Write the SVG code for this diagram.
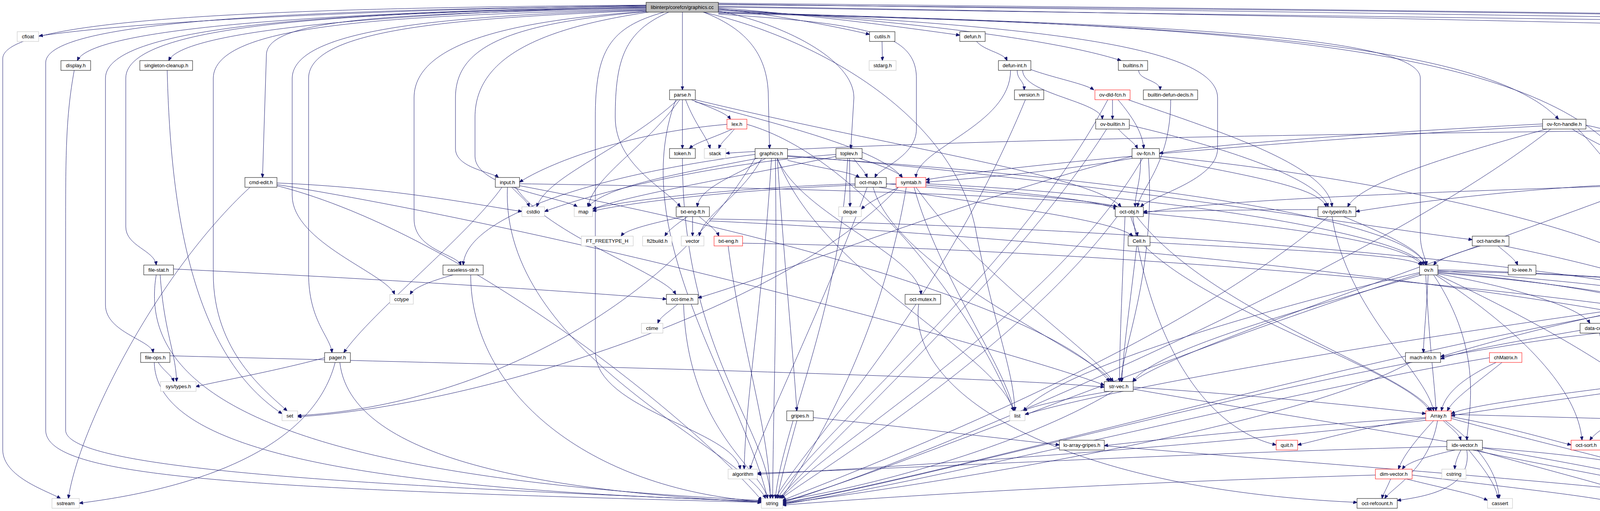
<svg xmlns="http://www.w3.org/2000/svg" width="6911" height="1307" viewBox="0 0 6911 1307">
<defs>
<marker id="a" markerWidth="10" markerHeight="8" refX="9.5" refY="4" orient="auto" markerUnits="userSpaceOnUse"><path d="M0,0 L10,4 L0,8 z" fill="#191970" stroke="#191970" stroke-width="1"/></marker>
<style>
.edges path{fill:none;stroke:#191970;stroke-width:1;marker-end:url(#a)}
g.n rect{fill:#fff;stroke:#000;stroke-width:1}
g.e rect{fill:#fff;stroke:#bfbfbf;stroke-width:1}
g.r rect{fill:#fff;stroke:#ff0000;stroke-width:1}
g.root rect{fill:#bfbfbf;stroke:#000;stroke-width:1}
text{font-family:'Liberation Sans',Arial,Helvetica,sans-serif;font-size:13px;text-anchor:middle;fill:#000}
</style>
</defs>
<rect width="6911" height="1307" fill="#fff"/>
<g id="edges" class="edges">
<path d="M1654,14 C1100,22 400,48 100,92"/>
<path d="M1654,16 C1000,28 240,60 198,155"/>
<path d="M1654,18 C1100,30 470,70 432,155"/>
<path d="M1654,22 C1000,34 684,48 682,140 L672,454"/>
<path d="M1654,20 C900,30 322,60 322,200 L322,580 C322,630 396,640 400,678"/>
<path d="M1654,19 C900,30 270,60 270,200 L270,780 C270,850 388,870 392,902"/>
<path d="M1654,13 C800,20 8,40 7,150 L7,1150 C7,1220 120,1255 155,1275"/>
<path d="M1654,15 C800,25 118,50 117,160 L117,1100 C117,1220 600,1250 1949,1285"/>
<path d="M1654,24 C1000,40 548,60 546,200 L546,700 C546,900 680,1000 735,1051"/>
<path d="M1654,26 C1100,40 750,80 748,200 L748,500 C748,620 990,700 1010,753"/>
<path d="M1654,27 C1200,45 790,70 790,200 L790,700 C790,820 845,860 850,902"/>
<path d="M1654,30 C1300,60 1166,120 1166,250 L1166,380 C1166,430 1260,440 1276,454"/>
<path d="M1660,31 C1400,70 1216,140 1216,300 L1216,400 C1216,480 1440,505 1478,529"/>
<path d="M1747,31 L1747,230"/>
<path d="M1712,31 C1600,80 1575,150 1575,300 C1575,420 1700,480 1742,529"/>
<path d="M1700,31 C1560,70 1524,130 1524,300 L1524,900 C1524,1050 1880,1100 1895,1200"/>
<path d="M1801,31 C1900,70 1967,130 1967,250 L1970,380"/>
<path d="M1839,28 C2000,60 2186,150 2186,250 L2178,380"/>
<path d="M1839,22 C2000,40 2150,70 2226,88"/>
<path d="M1839,20 C2100,40 2350,75 2457,90"/>
<path d="M1839,24 C2300,50 2700,100 2870,155"/>
<path d="M1839,26 C2500,60 3117,100 3117,250 L3117,380 C3117,460 2950,500 2920,529"/>
<path d="M1839,30 C2800,60 3636,80 3636,200 L3636,600 C3636,640 3650,660 3652,678"/>
<path d="M1839,32 C3000,60 3800,100 4100,350 C4200,500 4240,700 4242,827"/>
<path d="M1839,34 C3000,60 3800,100 3990,305"/>
<path d="M1839,36 C2200,60 2346,80 2346,200 L2346,330 C2346,400 2250,430 2240,454"/>
<path d="M1800,31 C2100,100 2450,300 2500,600 C2550,850 2595,950 2598,1051"/>
<path d="M1839,12 C4000,30 6200,60 6240,90 C6290,140 6312,220 6312,305"/>
<path d="M1839,10 C4000,40 6000,70 6601,88"/>
<path d="M1839,8 C4000,30 6300,60 6779,84"/>
<path d="M1839,16 C4000,50 6100,100 6180,150 C6205,170 6211,200 6211,300 L6211,800 C6211,850 6200,880 6198,902"/>
<path d="M1839,18 C4500,60 6400,70 6500,100 C6550,130 6563,180 6563,300 L6563,1140 C6563,1250 6100,1280 5938,1286"/>
<path d="M1654,29 C1350,50 1060,100 1060,250 L1060,560 C1060,640 1170,650 1180,678"/>
<path d="M2258,106 L2259,155"/>
<path d="M2500,106 C2520,130 2570,135 2578,155"/>
<path d="M2915,180 C2915,205 2970,205 2970,230"/>
<path d="M2604,180 C2604,205 2622,205 2622,230"/>
<path d="M2639,178 C2700,200 2780,215 2800,230"/>
<path d="M2618,180 C2618,240 2820,260 2822,305"/>
<path d="M2587,180 C2587,320 2345,380 2345,454"/>
<path d="M2848,255 L2848,305"/>
<path d="M2862,255 C2900,300 2925,340 2928,380"/>
<path d="M2888,255 C3100,330 3400,420 3410,529"/>
<path d="M2836,255 C2600,700 2100,1100 1990,1275"/>
<path d="M2863,330 C2880,350 2905,365 2912,380"/>
<path d="M2891,320 C3150,380 3380,460 3400,529"/>
<path d="M2833,330 C2600,700 2100,1150 1995,1275"/>
<path d="M2898,405 C2700,440 2500,455 2370,466"/>
<path d="M2920,405 C2920,470 2906,490 2906,529"/>
<path d="M2968,405 C3200,450 3380,480 3395,529"/>
<path d="M2940,405 C2960,700 2870,900 2870,976"/>
<path d="M2898,400 C2500,500 2000,700 1787,762"/>
<path d="M2968,400 C3500,450 4250,600 4300,753"/>
<path d="M2925,405 C2700,800 2100,1150 2000,1275"/>
<path d="M2997,255 C2997,420 2920,480 2912,529"/>
<path d="M2625,255 C2400,800 2050,1150 1985,1275"/>
<path d="M1770,255 C1830,280 1860,290 1870,305"/>
<path d="M1747,255 L1747,380"/>
<path d="M1755,255 C1780,320 1810,350 1818,380"/>
<path d="M1735,255 C1600,380 1400,450 1374,529"/>
<path d="M1740,255 C1650,380 1520,450 1505,529"/>
<path d="M1779,260 C2000,320 2250,380 2310,454"/>
<path d="M1730,255 C1600,600 1900,1000 1965,1275"/>
<path d="M1779,255 C2300,380 2800,450 2870,529"/>
<path d="M1875,330 C1820,355 1780,365 1765,380"/>
<path d="M1880,330 C1860,355 1845,365 1840,380"/>
<path d="M1861,318 C1600,340 1400,420 1330,466"/>
<path d="M1912,318 C2200,400 2500,800 2595,1051"/>
<path d="M1747,405 C1747,900 1970,1100 1972,1275"/>
<path d="M1933,395 C1500,450 1190,560 1186,678"/>
<path d="M1990,405 C2050,550 2350,650 2358,753"/>
<path d="M2016,410 C2100,430 2180,440 2200,454"/>
<path d="M2016,400 C2800,450 3600,550 3650,678"/>
<path d="M2016,398 C2700,450 3500,580 3769,613"/>
<path d="M1960,405 C1880,450 1790,480 1785,529"/>
<path d="M1940,405 C1700,450 1550,480 1505,529"/>
<path d="M1990,405 C2100,700 2550,900 2595,1051"/>
<path d="M1933,405 C1700,800 1200,1040 762,1063"/>
<path d="M1985,405 C1990,800 1980,1000 1978,1275"/>
<path d="M1990,405 C2010,700 2030,900 2040,1051"/>
<path d="M1975,405 C1950,800 1910,1000 1905,1200"/>
<path d="M1950,405 C1900,500 1800,550 1790,604"/>
<path d="M2175,405 L2176,529"/>
<path d="M2185,405 C2200,425 2215,440 2220,454"/>
<path d="M2200,405 C2260,425 2300,440 2310,454"/>
<path d="M2140,395 C1800,420 1500,500 1394,541"/>
<path d="M2170,405 C2150,800 2000,1100 1985,1275"/>
<path d="M2140,400 C1900,450 1600,500 1517,535"/>
<path d="M1310,479 C1330,500 1350,515 1355,529"/>
<path d="M1299,479 C1280,900 1900,1150 1960,1275"/>
<path d="M1320,479 C1400,600 1700,700 1730,753"/>
<path d="M1285,479 C1200,600 950,800 880,902"/>
<path d="M1330,470 C2000,480 2700,500 2860,529"/>
<path d="M1330,475 C2000,600 2700,800 2840,976"/>
<path d="M709,468 C1000,480 1200,520 1336,541"/>
<path d="M709,475 C1200,600 1800,1100 1950,1280"/>
<path d="M709,472 C1500,600 2600,900 2827,985"/>
<path d="M640,479 C400,700 200,1100 175,1275"/>
<path d="M190,180 C168,300 168,400 168,600 L168,1100 C168,1200 900,1240 1950,1283"/>
<path d="M428,180 C436,500 480,900 722,1058"/>
<path d="M444,688 C900,710 1400,740 1706,765"/>
<path d="M410,703 C420,850 450,900 452,976"/>
<path d="M400,703 C350,1000 700,1220 1950,1280"/>
<path d="M405,927 C420,950 440,960 445,976"/>
<path d="M395,927 C400,1150 900,1250 1950,1282"/>
<path d="M435,910 C1200,930 2500,960 2827,990"/>
<path d="M858,927 C800,1150 500,1250 203,1287"/>
<path d="M831,915 C700,950 560,975 501,989"/>
<path d="M870,927 C900,1200 1500,1260 1950,1285"/>
<path d="M1160,703 C1100,720 1060,735 1050,753"/>
<path d="M1205,703 C1205,1000 1500,1250 1950,1283"/>
<path d="M1735,778 C1710,800 1690,810 1684,827"/>
<path d="M1750,778 C1760,1100 1950,1200 1965,1275"/>
<path d="M2352,778 C2320,1000 2700,1250 3474,1285"/>
<path d="M2250,479 C2500,520 2850,560 2900,604"/>
<path d="M2269,470 C2500,490 2800,510 2860,529"/>
<path d="M2300,479 C2260,500 2220,520 2205,535"/>
<path d="M2189,470 C1900,480 1600,510 1517,535"/>
<path d="M2220,479 C2100,800 1950,1100 1920,1200"/>
<path d="M2235,479 C2300,700 2800,900 2845,976"/>
<path d="M2340,479 C2400,700 2580,950 2595,1051"/>
<path d="M2294,470 C1900,480 1600,520 1517,540"/>
<path d="M2300,479 C2000,800 1200,1040 762,1066"/>
<path d="M2320,479 C2250,900 2050,1200 2000,1275"/>
<path d="M2370,470 C3000,500 3600,600 3645,678"/>
<path d="M2345,479 C2500,700 2800,900 2850,976"/>
<path d="M2370,474 C2600,490 2800,510 2860,535"/>
<path d="M1750,554 C1650,575 1600,590 1590,604"/>
<path d="M1760,554 C1730,575 1710,590 1702,604"/>
<path d="M1773,554 L1773,604"/>
<path d="M1790,554 C1815,575 1835,590 1840,604"/>
<path d="M1816,560 C3000,580 4600,700 4720,902"/>
<path d="M1816,565 C3000,620 4400,800 4540,902"/>
<path d="M1901,622 C3000,640 4800,800 4980,976"/>
<path d="M1864,629 C1900,900 1970,1100 1972,1275"/>
<path d="M2895,554 C2900,575 2910,590 2912,604"/>
<path d="M2926,545 C3300,580 3600,620 3640,678"/>
<path d="M2880,554 C2870,800 2866,900 2866,976"/>
<path d="M2910,554 C3100,800 3600,950 3665,1051"/>
<path d="M2860,554 C2600,900 2100,1200 2000,1275"/>
<path d="M2900,554 C2950,900 3100,1100 3267,1138"/>
<path d="M2930,629 C3100,800 3600,950 3660,1051"/>
<path d="M2910,629 C2890,800 2875,900 2872,976"/>
<path d="M2944,620 C3300,640 3600,650 3640,678"/>
<path d="M3374,536 C3200,536 3000,540 2927,541"/>
<path d="M3440,554 C3550,600 3640,640 3650,678"/>
<path d="M3410,554 C3450,800 3650,950 3670,1051"/>
<path d="M3400,554 C3000,900 2200,1200 2003,1280"/>
<path d="M4025,330 C4100,380 4220,420 4225,454"/>
<path d="M3960,330 C3700,400 3480,470 3450,529"/>
<path d="M3949,317 C3500,340 3100,370 2968,392"/>
<path d="M3949,322 C3300,360 2600,420 2370,460"/>
<path d="M4040,330 C4150,450 4300,650 4310,753"/>
<path d="M4059,320 C4500,400 4450,1000 4440,1275"/>
<path d="M3970,330 C3500,700 2300,1200 2003,1285"/>
<path d="M4195,470 C3900,480 3600,520 3471,541"/>
<path d="M4246,479 L4244,827"/>
<path d="M4255,479 C4280,600 4300,700 4305,753"/>
<path d="M4301,470 C4700,500 4900,700 4930,827"/>
<path d="M4301,474 C5000,520 5550,800 5600,976"/>
<path d="M4195,474 C3700,490 3100,510 2927,545"/>
<path d="M4195,479 C3600,700 3000,900 2900,976"/>
<path d="M4301,476 C5000,550 5850,900 5900,1275"/>
<path d="M6330,330 C6360,350 6385,365 6392,380"/>
<path d="M6315,330 C6330,700 6330,1100 6018,1212"/>
<path d="M6363,335 C6500,450 6400,900 6202,1126"/>
<path d="M6263,318 C4000,330 2500,350 1858,392"/>
<path d="M6148,915 C6000,950 5900,975 5820,988"/>
<path d="M6193,927 L6193,1126"/>
<path d="M4920,852 C4800,875 4760,890 4750,902"/>
<path d="M4935,852 C4900,875 4880,890 4875,902"/>
<path d="M4965,852 C4990,875 5010,890 5015,902"/>
<path d="M4980,852 C5100,875 5160,890 5170,902"/>
<path d="M4990,855 C5150,875 5270,890 5292,902"/>
<path d="M4990,850 C5200,870 5380,890 5417,902"/>
<path d="M4990,848 C5250,865 5480,890 5536,902"/>
<path d="M4990,845 C5300,860 5580,890 5633,902"/>
<path d="M4990,842 C5350,855 5690,890 5737,902"/>
<path d="M4952,852 C4965,900 4980,940 4984,976"/>
<path d="M4980,852 C5150,960 5400,980 5565,988"/>
<path d="M4906,845 C4750,860 4650,890 4594,912"/>
<path d="M4906,855 C4700,900 4500,950 4318,985"/>
<path d="M5032,927 C5020,950 5005,965 5002,976"/>
<path d="M5580,927 C5590,950 5598,965 5600,976"/>
<path d="M5663,927 C5650,950 5635,965 5630,976"/>
<path d="M5690,927 C5720,950 5745,965 5750,976"/>
<path d="M5760,927 C5720,960 5690,980 5664,988"/>
<path d="M5777,927 L5776,976"/>
<path d="M5775,1001 L5775,1051"/>
<path d="M4707,927 C4600,1000 4350,1100 4300,1200"/>
<path d="M4594,915 C4750,930 4900,955 4940,976"/>
<path d="M4594,920 C5000,950 5400,980 5565,993"/>
<path d="M4530,927 C4300,980 3800,1020 3715,1058"/>
<path d="M3656,703 C3652,800 3645,850 3644,902"/>
<path d="M3681,692 C3900,710 4200,735 4286,760"/>
<path d="M3681,700 C3900,740 4050,790 4070,827"/>
<path d="M3681,696 C4000,720 4300,780 4360,827"/>
<path d="M3681,698 C4200,740 4520,820 4545,902"/>
<path d="M3670,703 C3800,900 3760,1050 3755,1126"/>
<path d="M3675,703 C3900,850 4040,1000 4050,1126"/>
<path d="M3681,703 C4100,900 4400,1100 4425,1275"/>
<path d="M3634,700 C3000,900 2300,1200 2003,1283"/>
<path d="M3634,697 C3200,800 2700,950 2620,1051"/>
<path d="M3681,694 C4300,700 4800,780 4920,827"/>
<path d="M3650,703 C3660,900 3675,1000 3676,1051"/>
<path d="M3640,703 C3300,800 2950,900 2900,976"/>
<path d="M3681,690 C5000,720 5880,1000 5900,1275"/>
<path d="M4300,778 C4200,800 4140,815 4125,827"/>
<path d="M4315,778 C4280,800 4260,815 4255,827"/>
<path d="M4340,778 C4355,800 4365,815 4368,827"/>
<path d="M4286,770 C4000,820 3800,880 3688,912"/>
<path d="M4345,778 C4420,900 4440,1100 4440,1275"/>
<path d="M4365,765 C4600,780 4850,800 4910,827"/>
<path d="M4286,775 C3500,900 2500,1200 2003,1286"/>
<path d="M4286,772 C3700,850 2900,980 2624,1060"/>
<path d="M4365,770 C5200,850 5880,1100 5900,1275"/>
<path d="M4095,852 C4120,1000 4140,1150 4140,1275"/>
<path d="M4100,852 C4200,1000 4260,1100 4262,1200"/>
<path d="M4045,845 C3900,870 3750,895 3688,918"/>
<path d="M4255,852 C4280,870 4295,885 4300,902"/>
<path d="M4210,840 C3500,900 2500,1200 2003,1288"/>
<path d="M4400,852 C4470,870 4520,885 4535,902"/>
<path d="M4370,852 C4300,1000 4100,1080 4070,1126"/>
<path d="M4390,852 C4430,1000 4440,1150 4440,1275"/>
<path d="M3610,927 C3300,1100 2300,1250 2003,1288"/>
<path d="M3845,927 C3780,980 3720,1020 3705,1051"/>
<path d="M3830,927 C3760,960 3700,1000 3690,1051"/>
<path d="M3813,915 C3300,1000 2400,1230 2003,1290"/>
<path d="M4224,990 C4000,1020 3800,1050 3715,1063"/>
<path d="M3695,1076 C3720,1100 3735,1110 3740,1126"/>
<path d="M3670,1076 C3620,1130 3590,1170 3580,1200"/>
<path d="M3680,1076 C3660,1200 3560,1250 3545,1275"/>
<path d="M3700,1076 C3800,1150 3835,1220 3838,1275"/>
<path d="M3715,1066 C3850,1090 3950,1120 4022,1138"/>
<path d="M3715,1070 C4000,1150 4350,1220 4410,1275"/>
<path d="M3650,1070 C3500,1090 3400,1120 3322,1138"/>
<path d="M3650,1075 C3000,1150 2200,1200 1939,1213"/>
<path d="M3715,1060 C4500,1080 5800,1120 6161,1138"/>
<path d="M3650,1068 C3300,1090 3000,1120 2827,1140"/>
<path d="M3725,1151 C3640,1170 3600,1185 3590,1200"/>
<path d="M3740,1151 C3730,1170 3725,1185 3724,1200"/>
<path d="M3760,1151 C3800,1200 3830,1240 3835,1275"/>
<path d="M3795,1145 C4000,1160 4150,1180 4216,1200"/>
<path d="M3755,1151 C3770,1250 3650,1270 3577,1280"/>
<path d="M3770,1151 C4000,1200 4300,1250 4401,1280"/>
<path d="M3704,1142 C3000,1160 2300,1200 1939,1210"/>
<path d="M3780,1151 C3950,1200 4150,1250 4215,1275"/>
<path d="M3560,1225 C3550,1250 3540,1265 3538,1275"/>
<path d="M3600,1225 C3700,1250 3780,1265 3808,1280"/>
<path d="M3615,1215 C3800,1240 4000,1260 4113,1280"/>
<path d="M3521,1215 C3000,1230 2400,1260 2003,1292"/>
<path d="M4255,1225 C4250,1250 4245,1265 4244,1275"/>
<path d="M4240,1225 C4200,1250 4170,1265 4160,1275"/>
<path d="M4290,1225 C4350,1250 4400,1265 4415,1275"/>
<path d="M4318,1212 C5000,1230 5600,1260 5878,1282"/>
<path d="M2040,1076 C2020,1150 2000,1220 1990,1275"/>
<path d="M2082,1068 C2300,1090 2550,1120 2712,1138"/>
<path d="M2840,1001 C2700,1025 2640,1040 2620,1051"/>
<path d="M2850,1001 C2600,1150 2200,1250 2003,1280"/>
<path d="M2900,990 C3200,1010 3500,1040 3650,1058"/>
<path d="M2900,995 C3500,1100 4200,1200 4405,1275"/>
<path d="M2826,1140 C3300,1180 4000,1230 4401,1278"/>
<path d="M3790,629 C3720,650 3680,665 3670,678"/>
<path d="M3850,629 C4200,700 4530,800 4550,902"/>
<path d="M3835,629 C3860,650 3880,665 3885,678"/>
</g>
<g id="n-graphics-cc" class="root"><rect x="1654" y="6" width="185" height="25"/><text x="1746.5" y="23">libinterp/corefcn/graphics.cc</text></g>
<g id="n-cfloat" class="e"><rect x="44" y="81" width="55" height="25"/><text x="71.5" y="98">cfloat</text></g>
<g id="n-cutils" class="n"><rect x="2226" y="81" width="65" height="25"/><text x="2258.5" y="98">cutils.h</text></g>
<g id="n-defun" class="n"><rect x="2457" y="81" width="65" height="25"/><text x="2489.5" y="98">defun.h</text></g>
<g id="n-odi" class="n"><rect x="6601" y="81" width="154" height="25"/><text x="6678" y="98">octave-default-image.h</text></g>
<g id="n-gprops" class="n"><rect x="6779" y="81" width="126" height="25"/><text x="6842" y="98">graphics-props.cc</text></g>
<g id="n-display" class="n"><rect x="156" y="155" width="76" height="25"/><text x="194" y="172">display.h</text></g>
<g id="n-singleton" class="n"><rect x="358" y="155" width="135" height="25"/><text x="425.5" y="172">singleton-cleanup.h</text></g>
<g id="n-stdarg" class="e"><rect x="2225" y="155" width="69" height="25"/><text x="2259.5" y="172">stdarg.h</text></g>
<g id="n-defunint" class="n"><rect x="2556" y="155" width="83" height="25"/><text x="2597.5" y="172">defun-int.h</text></g>
<g id="n-builtins" class="n"><rect x="2863" y="155" width="75" height="25"/><text x="2900.5" y="172">builtins.h</text></g>
<g id="n-parse" class="n"><rect x="1714" y="230" width="66" height="25"/><text x="1747" y="247">parse.h</text></g>
<g id="n-version" class="n"><rect x="2597" y="230" width="75" height="25"/><text x="2634.5" y="247">version.h</text></g>
<g id="n-ovdld" class="r"><rect x="2803" y="230" width="90" height="25"/><text x="2848" y="247">ov-dld-fcn.h</text></g>
<g id="n-bdd" class="n"><rect x="2927" y="230" width="139" height="25"/><text x="2996.5" y="247">builtin-defun-decls.h</text></g>
<g id="n-lex" class="r"><rect x="1861" y="305" width="51" height="25"/><text x="1886.5" y="322">lex.h</text></g>
<g id="n-ovbuiltin" class="n"><rect x="2805" y="305" width="86" height="25"/><text x="2848" y="322">ov-builtin.h</text></g>
<g id="n-ovfh" class="n"><rect x="3949" y="305" width="111" height="25"/><text x="4004.5" y="322">ov-fcn-handle.h</text></g>
<g id="n-unwind" class="n"><rect x="6263" y="305" width="100" height="25"/><text x="6313" y="322">unwind-prot.h</text></g>
<g id="n-token" class="n"><rect x="1714" y="380" width="66" height="25"/><text x="1747" y="397">token.h</text></g>
<g id="n-stack" class="e"><rect x="1803" y="380" width="55" height="25"/><text x="1830.5" y="397">stack</text></g>
<g id="n-graphicsh" class="n"><rect x="1933" y="380" width="83" height="25"/><text x="1974.5" y="397">graphics.h</text></g>
<g id="n-toplev" class="n"><rect x="2140" y="380" width="67" height="25"/><text x="2173.5" y="397">toplev.h</text></g>
<g id="n-ovfcn" class="n"><rect x="2898" y="380" width="70" height="25"/><text x="2933" y="397">ov-fcn.h</text></g>
<g id="n-actc" class="n"><rect x="6350" y="380" width="126" height="25"/><text x="6413" y="397">action-container.h</text></g>
<g id="n-cmdedit" class="n"><rect x="627" y="454" width="82" height="25"/><text x="668" y="471">cmd-edit.h</text></g>
<g id="n-input" class="n"><rect x="1268" y="454" width="62" height="25"/><text x="1299" y="471">input.h</text></g>
<g id="n-octmap" class="n"><rect x="2189" y="454" width="80" height="25"/><text x="2229" y="471">oct-map.h</text></g>
<g id="n-symtab" class="r"><rect x="2294" y="454" width="76" height="25"/><text x="2332" y="471">symtab.h</text></g>
<g id="n-ovbasemat" class="n"><rect x="4195" y="454" width="106" height="25"/><text x="4248" y="471">ov-base-mat.h</text></g>
<g id="n-cstdio" class="e"><rect x="1336" y="529" width="58" height="25"/><text x="1365" y="546">cstdio</text></g>
<g id="n-map" class="e"><rect x="1470" y="529" width="47" height="25"/><text x="1493.5" y="546">map</text></g>
<g id="n-txtengft" class="n"><rect x="1731" y="529" width="85" height="25"/><text x="1773.5" y="546">txt-eng-ft.h</text></g>
<g id="n-deque" class="e"><rect x="2147" y="529" width="58" height="25"/><text x="2176" y="546">deque</text></g>
<g id="n-octobj" class="n"><rect x="2855" y="529" width="72" height="25"/><text x="2891" y="546">oct-obj.h</text></g>
<g id="n-ovtypeinfo" class="n"><rect x="3374" y="529" width="97" height="25"/><text x="3422.5" y="546">ov-typeinfo.h</text></g>
<g id="n-ft" class="e"><rect x="1488" y="604" width="133" height="25"/><text x="1554.5" y="621">FT_FREETYPE_H</text></g>
<g id="n-ft2" class="e"><rect x="1645" y="604" width="75" height="25"/><text x="1682.5" y="621">ft2build.h</text></g>
<g id="n-vector" class="e"><rect x="1744" y="604" width="58" height="25"/><text x="1773" y="621">vector</text></g>
<g id="n-txteng" class="r"><rect x="1828" y="604" width="73" height="25"/><text x="1864.5" y="621">txt-eng.h</text></g>
<g id="n-cell" class="n"><rect x="2888" y="604" width="56" height="25"/><text x="2916" y="621">Cell.h</text></g>
<g id="n-octhandle" class="n"><rect x="3769" y="604" width="94" height="25"/><text x="3816" y="621">oct-handle.h</text></g>
<g id="n-filestat" class="n"><rect x="368" y="678" width="76" height="25"/><text x="406" y="695">file-stat.h</text></g>
<g id="n-caseless" class="n"><rect x="1134" y="678" width="103" height="25"/><text x="1185.5" y="695">caseless-str.h</text></g>
<g id="n-ovh" class="n"><rect x="3634" y="678" width="47" height="25"/><text x="3657.5" y="695">ov.h</text></g>
<g id="n-loieee" class="n"><rect x="3861" y="678" width="71" height="25"/><text x="3896.5" y="695">lo-ieee.h</text></g>
<g id="n-cctype" class="e"><rect x="998" y="753" width="60" height="25"/><text x="1028" y="770">cctype</text></g>
<g id="n-octtime" class="n"><rect x="1706" y="753" width="81" height="25"/><text x="1746.5" y="770">oct-time.h</text></g>
<g id="n-octmutex" class="n"><rect x="2317" y="753" width="91" height="25"/><text x="2362.5" y="770">oct-mutex.h</text></g>
<g id="n-ovbase" class="r"><rect x="4286" y="753" width="79" height="25"/><text x="4325.5" y="770">ov-base.h</text></g>
<g id="n-ctime" class="e"><rect x="1642" y="827" width="55" height="25"/><text x="1669.5" y="844">ctime</text></g>
<g id="n-dataconv" class="n"><rect x="4045" y="827" width="91" height="25"/><text x="4090.5" y="844">data-conv.h</text></g>
<g id="n-error" class="n"><rect x="4210" y="827" width="60" height="25"/><text x="4240" y="844">error.h</text></g>
<g id="n-range" class="n"><rect x="4344" y="827" width="71" height="25"/><text x="4379.5" y="844">Range.h</text></g>
<g id="n-mxbase" class="r"><rect x="4906" y="827" width="84" height="25"/><text x="4948" y="844">mx-base.h</text></g>
<g id="n-fileops" class="n"><rect x="360" y="902" width="75" height="25"/><text x="397.5" y="919">file-ops.h</text></g>
<g id="n-pager" class="n"><rect x="831" y="902" width="66" height="25"/><text x="864" y="919">pager.h</text></g>
<g id="n-machinfo" class="n"><rect x="3598" y="902" width="90" height="25"/><text x="3643" y="919">mach-info.h</text></g>
<g id="n-chmatrix" class="r"><rect x="3813" y="902" width="83" height="25"/><text x="3854.5" y="919">chMatrix.h</text></g>
<g id="n-cstdarg" class="e"><rect x="4275" y="902" width="66" height="25"/><text x="4308" y="919">cstdarg</text></g>
<g id="n-dmatrix" class="r"><rect x="4518" y="902" width="76" height="25"/><text x="4556" y="919">dMatrix.h</text></g>
<g id="n-uint8" class="r"><rect x="4669" y="902" width="112" height="25"/><text x="4725" y="919">uint8NDArray.h</text></g>
<g id="n-fccol" class="r"><rect x="4805" y="902" width="105" height="25"/><text x="4857.5" y="919">fCColVector.h</text></g>
<g id="n-crow" class="r"><rect x="4985" y="902" width="109" height="25"/><text x="5039.5" y="919">CRowVector.h</text></g>
<g id="n-dcol" class="r"><rect x="5169" y="902" width="99" height="25"/><text x="5218.5" y="919">dColVector.h</text></g>
<g id="n-ccol" class="r"><rect x="5292" y="902" width="102" height="25"/><text x="5343" y="919">CColVector.h</text></g>
<g id="n-fcol" class="r"><rect x="5417" y="902" width="96" height="25"/><text x="5465" y="919">fColVector.h</text></g>
<g id="n-fmatrix" class="r"><rect x="5536" y="902" width="74" height="25"/><text x="5573" y="919">fMatrix.h</text></g>
<g id="n-cmatrix" class="r"><rect x="5633" y="902" width="79" height="25"/><text x="5672.5" y="919">CMatrix.h</text></g>
<g id="n-fcmatrix" class="r"><rect x="5737" y="902" width="83" height="25"/><text x="5778.5" y="919">fCMatrix.h</text></g>
<g id="n-locbuf" class="n"><rect x="6148" y="902" width="91" height="25"/><text x="6193.5" y="919">oct-locbuf.h</text></g>
<g id="n-systypes" class="e"><rect x="411" y="976" width="91" height="25"/><text x="456.5" y="993">sys/types.h</text></g>
<g id="n-strvec" class="n"><rect x="2827" y="976" width="74" height="25"/><text x="2864" y="993">str-vec.h</text></g>
<g id="n-boolmatrix" class="r"><rect x="4224" y="976" width="94" height="25"/><text x="4271" y="993">boolMatrix.h</text></g>
<g id="n-drow" class="r"><rect x="4940" y="976" width="106" height="25"/><text x="4993" y="993">dRowVector.h</text></g>
<g id="n-mtype" class="n"><rect x="5565" y="976" width="99" height="25"/><text x="5614.5" y="993">MatrixType.h</text></g>
<g id="n-cmplx" class="n"><rect x="5730" y="976" width="90" height="25"/><text x="5775" y="993">oct-cmplx.h</text></g>
<g id="n-set" class="e"><rect x="722" y="1051" width="40" height="25"/><text x="742" y="1068">set</text></g>
<g id="n-gripes" class="n"><rect x="2014" y="1051" width="68" height="25"/><text x="2048" y="1068">gripes.h</text></g>
<g id="n-list" class="e"><rect x="2585" y="1051" width="39" height="25"/><text x="2604.5" y="1068">list</text></g>
<g id="n-array" class="r"><rect x="3650" y="1051" width="65" height="25"/><text x="3682.5" y="1068">Array.h</text></g>
<g id="n-complex" class="e"><rect x="5739" y="1051" width="71" height="25"/><text x="5774.5" y="1068">complex</text></g>
<g id="n-loag" class="n"><rect x="2712" y="1126" width="115" height="25"/><text x="2769.5" y="1143">lo-array-gripes.h</text></g>
<g id="n-quit" class="r"><rect x="3267" y="1126" width="55" height="25"/><text x="3294.5" y="1143">quit.h</text></g>
<g id="n-idxvec" class="n"><rect x="3704" y="1126" width="91" height="25"/><text x="3749.5" y="1143">idx-vector.h</text></g>
<g id="n-octsort" class="r"><rect x="4022" y="1126" width="77" height="25"/><text x="4060.5" y="1143">oct-sort.h</text></g>
<g id="n-cstddef" class="e"><rect x="6161" y="1126" width="65" height="25"/><text x="6193.5" y="1143">cstddef</text></g>
<g id="n-algorithm" class="e"><rect x="1864" y="1200" width="75" height="25"/><text x="1901.5" y="1217">algorithm</text></g>
<g id="n-dimvec" class="r"><rect x="3521" y="1200" width="94" height="25"/><text x="3568" y="1217">dim-vector.h</text></g>
<g id="n-cstring" class="e"><rect x="3691" y="1200" width="62" height="25"/><text x="3722" y="1217">cstring</text></g>
<g id="n-inttypes" class="r"><rect x="4216" y="1200" width="102" height="25"/><text x="4267" y="1217">oct-inttypes.h</text></g>
<g id="n-memory" class="e"><rect x="5949" y="1200" width="70" height="25"/><text x="5984" y="1217">memory</text></g>
<g id="n-sstream" class="e"><rect x="133" y="1275" width="70" height="25"/><text x="168" y="1292">sstream</text></g>
<g id="n-string" class="e"><rect x="1949" y="1275" width="55" height="25"/><text x="1976.5" y="1292">string</text></g>
<g id="n-refcount" class="n"><rect x="3474" y="1275" width="103" height="25"/><text x="3525.5" y="1292">oct-refcount.h</text></g>
<g id="n-cassert" class="e"><rect x="3808" y="1275" width="64" height="25"/><text x="3840" y="1292">cassert</text></g>
<g id="n-limits" class="e"><rect x="4113" y="1275" width="54" height="25"/><text x="4140" y="1292">limits</text></g>
<g id="n-lomath" class="r"><rect x="4204" y="1275" width="77" height="25"/><text x="4242.5" y="1292">lo-math.h</text></g>
<g id="n-iosfwd" class="e"><rect x="4401" y="1275" width="59" height="25"/><text x="4430.5" y="1292">iosfwd</text></g>
<g id="n-cstdlib" class="e"><rect x="5878" y="1275" width="60" height="25"/><text x="5908" y="1292">cstdlib</text></g>
</svg>
